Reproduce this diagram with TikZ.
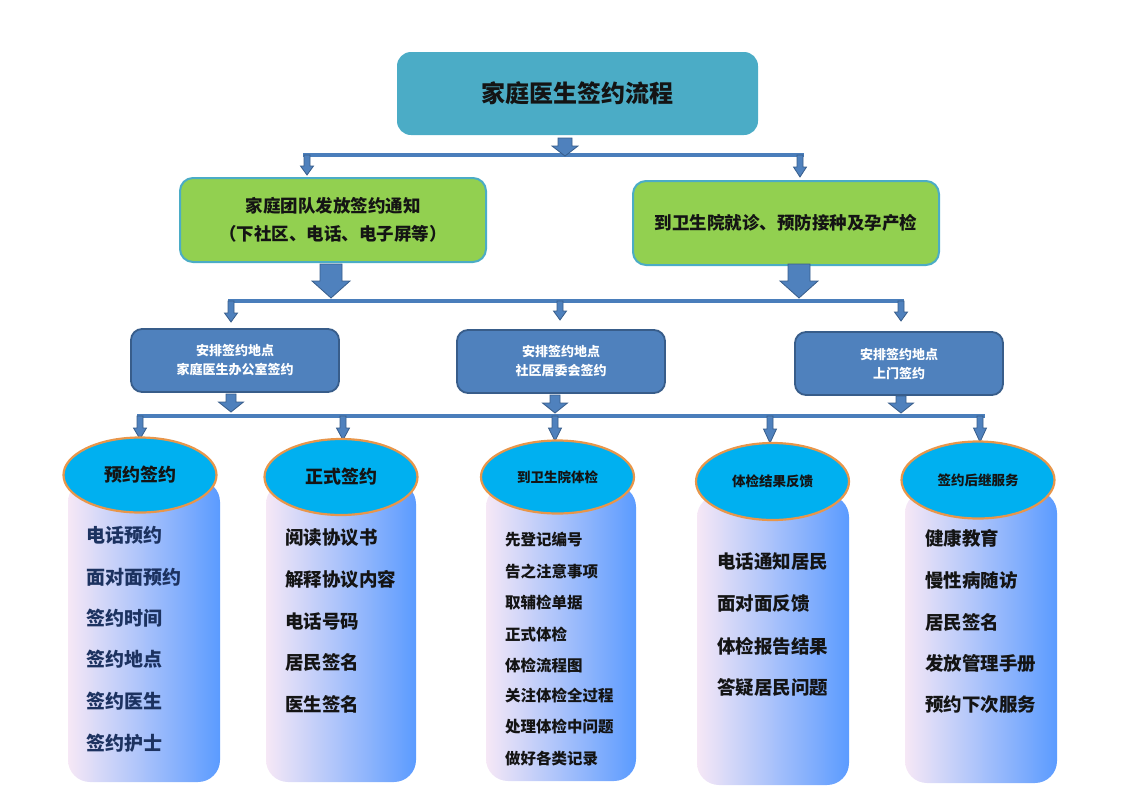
\documentclass[tikz,border=0pt]{standalone}
\usepackage{fontspec}
\setmainfont{Noto Sans CJK SC}
\usetikzlibrary{shapes.geometric}
\definecolor{titleteal}{HTML}{4BACC6}
\definecolor{greenfill}{HTML}{92D050}
\definecolor{boxblue}{HTML}{4F81BD}
\definecolor{boxdark}{HTML}{385D8A}
\definecolor{busblue}{HTML}{4A7EBB}
\definecolor{ellcyan}{HTML}{00B0F0}
\definecolor{ellorange}{HTML}{E8964A}
\definecolor{colleft}{HTML}{F6E8F6}
\definecolor{colmid}{HTML}{98C4F6}
\definecolor{colright}{HTML}{5B9BFF}
\definecolor{navytext}{HTML}{1C3260}
\definecolor{darktext}{HTML}{141414}
\newcommand\fsz[1]{\fontsize{#1}{#1}\selectfont}
\newcommand\barrow[6]{%
  \draw[arrowstyle] ({#1-#5},#2) -- ({#1+#5},#2) -- ({#1+#5},#3) -- ({#1+#6},#3)
    -- (#1,#4) -- ({#1-#6},#3) -- ({#1-#5},#3) -- cycle;}
\tikzset{
  arrowstyle/.style={fill=boxblue, draw=boxdark, line width=0.8pt, line join=miter},
  bus/.style={draw=busblue, line width=4pt},
  titlebox/.style={rectangle, rounded corners=14pt, fill=titleteal, draw=none,
    minimum width=361pt, minimum height=83pt, text=darktext,
    font=\bfseries\fsz{24}},
  greenbox/.style={rectangle, rounded corners=13pt, fill=greenfill, draw=titleteal,
    line width=2pt, minimum width=306pt, minimum height=84pt, text=darktext,
    align=center, font=\bfseries\fsz{17.5}},
  bluebox/.style={rectangle, rounded corners=11pt, fill=boxblue, draw=boxdark,
    line width=1.8pt, minimum width=208pt, minimum height=63pt, text=white,
    align=center, font=\bfseries\fsz{13}},
  colbox/.style={rectangle, rounded corners=22pt, left color=colleft,
    middle color=colmid, right color=colright, draw=none, inner sep=0pt},
  ellbox/.style={ellipse, fill=ellcyan, draw=ellorange, line width=2.2pt,
    inner sep=0pt, text=darktext},
  item/.style={anchor=west, inner sep=0pt, font=\bfseries\fsz{#1}},
}
\begin{document}
\begin{tikzpicture}[x=1pt,y=-1pt]
\useasboundingbox (0,0) rectangle (1122,793);

% ---------- top level ----------
\node[titlebox] (title) at (577.5,93.5) {家庭医生签约流程};
\coordinate (busAl) at (303,155);
\coordinate (busAr) at (804,155);
\draw[bus] (busAl) -- (busAr);
\barrow{565}{138}{146}{156}{7}{13}
\barrow{307}{155}{166}{175}{3}{6.5}
\barrow{800}{155}{167}{177}{3}{6.5}

% ---------- green boxes ----------
\node[greenbox] (notice) at (333,220) {家庭团队发放签约通知\\[10pt]（下社区、电话、电子屏等）};
\node[greenbox] (clinic) at (786,223) {到卫生院就诊、预防接种及孕产检};

\coordinate (busBl) at (228,301);
\coordinate (busBr) at (904,301);
\draw[bus] (busBl) -- (busBr);
\barrow{331}{264}{281}{298}{11}{19}
\barrow{799}{264}{281}{298}{11}{19}
\barrow{231}{301}{313}{322}{3}{6.5}
\barrow{560}{301}{311}{320}{3}{6.5}
\barrow{901}{301}{312}{321}{3}{6.5}

% ---------- blue boxes ----------
\node[bluebox] (office) at (235,360.5) {安排签约地点\\[6pt]家庭医生办公室签约};
\node[bluebox] (committee) at (561,361.5) {安排签约地点\\[6pt]社区居委会签约};
\node[bluebox] (home) at (899,363.5) {安排签约地点\\[6pt]上门签约};

\coordinate (busCl) at (137,416);
\coordinate (busCr) at (985,416);
\draw[bus] (busCl) -- (busCr);
\barrow{231}{394}{402}{412}{5}{12.5}
\barrow{555}{395}{403}{413}{5}{12.5}
\barrow{901}{396}{403}{413}{5}{12.5}
\barrow{140}{416}{428}{439}{3}{6.5}
\barrow{343}{416}{428}{440}{3}{6.5}
\barrow{555}{416}{428}{441}{3}{6.5}
\barrow{770}{416}{429}{443}{3}{6.5}
\barrow{980}{416}{428}{442}{3}{6.5}

% ---------- columns ----------
\node[colbox, minimum width=152pt, minimum height=302pt] (c1) at (144,631) {};
\node[colbox, minimum width=150pt, minimum height=300pt] (c2) at (341,632) {};
\node[colbox, minimum width=150pt, minimum height=296pt] (c3) at (561,633) {};
\node[colbox, minimum width=152pt, minimum height=290pt] (c4) at (773,640) {};
\node[colbox, minimum width=152pt, minimum height=292pt] (c5) at (981,637) {};

\node[ellbox, minimum width=153pt, minimum height=75pt, font=\bfseries\fsz{18}] (e1) at (140,475) {预约签约};
\node[ellbox, minimum width=153pt, minimum height=76pt, font=\bfseries\fsz{18}] (e2) at (341,477) {正式签约};
\node[ellbox, minimum width=153pt, minimum height=73pt, font=\bfseries\fsz{13.5}] (e3) at (557.5,477) {到卫生院体检};
\node[ellbox, minimum width=153pt, minimum height=77pt, font=\bfseries\fsz{13.5}] (e4) at (772.5,481.5) {体检结果反馈};
\node[ellbox, minimum width=153pt, minimum height=77pt, font=\bfseries\fsz{13.5}] (e5) at (978,480) {签约后继服务};

% column 1 items
\begin{scope}[every node/.append style={text=navytext}]
\node[item=19] (a1) at (86,535) {电话预约};
\node[item=19] (a2) at (86,577) {面对面预约};
\node[item=19] (a3) at (86,618) {签约时间};
\node[item=19] (a4) at (86,659) {签约地点};
\node[item=19] (a5) at (86,701) {签约医生};
\node[item=19] (a6) at (86,743) {签约护士};
\end{scope}

\begin{scope}[every node/.append style={text=darktext}]
% column 2
\node[item=18.5] (b1) at (285,538) {阅读协议书};
\node[item=18.5] (b2) at (285,579) {解释协议内容};
\node[item=18.5] (b3) at (285,621) {电话号码};
\node[item=18.5] (b4) at (285,662) {居民签名};
\node[item=18.5] (b5) at (285,704) {医生签名};
% column 3
\node[item=15.5] (d1) at (505,540) {先登记编号};
\node[item=15.5] (d2) at (505,572) {告之注意事项};
\node[item=15.5] (d3) at (505,603) {取辅检单据};
\node[item=15.5] (d4) at (505,634) {正式体检};
\node[item=15.5] (d5) at (505,665) {体检流程图};
\node[item=15.5] (d6) at (505,696) {关注体检全过程};
\node[item=15.5] (d7) at (505,727) {处理体检中问题};
\node[item=15.5] (d8) at (505,759) {做好各类记录};
% column 4
\node[item=18.5] (f1) at (717,562) {电话通知居民};
\node[item=18.5] (f2) at (717,604) {面对面反馈};
\node[item=18.5] (f3) at (717,646) {体检报告结果};
\node[item=18.5] (f4) at (717,687) {答疑居民问题};
% column 5
\node[item=18.5] (g1) at (925,538) {健康教育};
\node[item=18.5] (g2) at (925,580) {慢性病随访};
\node[item=18.5] (g3) at (925,622) {居民签名};
\node[item=18.5] (g4) at (925,663) {发放管理手册};
\node[item=18.5] (g5) at (925,705) {预约下次服务};
\end{scope}
\end{tikzpicture}
\end{document}
